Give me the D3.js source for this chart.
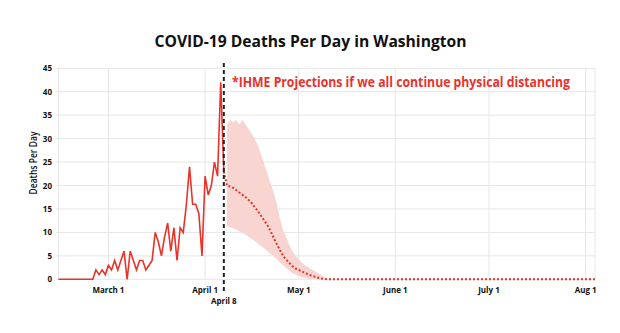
<!DOCTYPE html>
<html>
<head>
  <meta charset="utf-8">
  <title>COVID-19 Deaths Per Day in Washington</title>
  <style>
    html, body {
      margin: 0;
      padding: 0;
      background: #fff;
    }
    svg {
      display: block;
      font-family: "Open Sans", sans-serif;
    }
    .grid line {
      stroke: #e6e6e6;
      stroke-width: 1;
    }
    .tick-label {
      font-size: 8px;
      font-weight: 700;
      fill: #111;
    }
  </style>
</head>
<body>
  <svg id="chart" width="620" height="333"></svg>

  <script src="https://d3js.org/d3.v7.min.js"></script>
  <script>
    const width = 620;
    const height = 333;

    // reported deaths, one value per day starting Feb 14 2020
    const observedStart = new Date(2020, 1, 14);
    const observed = [
      0, 0, 0, 0, 0, 0, 0, 0, 0, 0, 0, 0,
      2, 1, 2, 1, 3, 2, 4, 2, 4, 6, 0, 6, 4, 2, 4, 4, 2, 3, 4,
      10, 8, 5, 9, 12, 6, 11, 4, 11, 10, 16, 24, 16, 16, 14, 5,
      22, 18, 20, 25, 22, 42, 23
    ];

    // IHME projection, one value per day starting Apr 7 2020
    const projStart = new Date(2020, 3, 7);
    const projMean = [
      23, 20, 19.8, 19.5, 19, 18.5, 18, 17.5, 16.9, 16.2, 15.3, 14.5, 13.5, 12.5,
      11.5, 10.3, 8.8, 7.5, 6.2, 5, 4.2, 3.5, 2.8, 2.3, 2, 1.7, 1.4, 1.1, 0.8,
      0.6, 0.4, 0.2, 0.1, 0
    ];
    // uncertainty band, starting Apr 8 2020
    const bandStart = new Date(2020, 3, 8);
    const projUpper = [
      33, 34, 33.5, 34, 33, 34, 33, 32, 31, 29.8, 28.5, 26.5, 24.5, 22.5, 20.5,
      18.5, 16, 13, 10.5, 9, 7.3, 6, 5, 4.3, 3.6, 3, 2.6, 2.1, 1.8, 1.4, 1, 0.5, 0.1, 0
    ];
    const projLower = [
      11.3, 11.1, 10.9, 10.6, 10.2, 9.9, 9.5, 9, 8.6, 8.1, 7.6, 7, 6.6, 6, 5.4,
      4.9, 4.3, 3.6, 3, 2.4, 1.8, 1.3, 1, 0.7, 0.5, 0.3, 0.1, 0, 0, 0, 0, 0, 0, 0
    ];
    const projEnd = new Date(2020, 7, 4);

    const yTicks = [0, 5, 10, 15, 20, 25, 30, 35, 40, 45];
    const xTicks = [
      { date: new Date(2020, 2, 1), label: "March 1" },
      { date: new Date(2020, 3, 1), label: "April 1" },
      { date: new Date(2020, 4, 1), label: "May 1" },
      { date: new Date(2020, 5, 1), label: "June 1" },
      { date: new Date(2020, 6, 1), label: "July 1" },
      { date: new Date(2020, 7, 1), label: "Aug 1" }
    ];
    const cutoffDate = new Date(2020, 3, 7);
    const cutoffLabel = "April 8";

    const dayOffset = (start, i) => d3.timeDay.offset(start, i);
    const observedData = observed.map((v, i) => ({ date: dayOffset(observedStart, i), value: v }));
    const meanData = projMean.map((v, i) => ({ date: dayOffset(projStart, i), value: v }));
    meanData.push({ date: projEnd, value: 0 });
    const bandData = projUpper.map((v, i) => ({ date: dayOffset(bandStart, i), hi: v, lo: projLower[i] }));

    const x = d3.scaleTime()
      .domain([new Date(2020, 1, 14), projEnd])
      .range([58.5, 595]);
    const y = d3.scaleLinear()
      .domain([0, 45])
      .range([279.3, 68.3]);

    const svg = d3.select("#chart");

    // title
    svg.append("text")
      .attr("x", 310.5)
      .attr("y", 47.3)
      .attr("text-anchor", "middle")
      .attr("font-size", 16)
      .attr("font-weight", 700)
      .attr("fill", "#111")
      .attr("textLength", 312)
      .attr("lengthAdjust", "spacingAndGlyphs")
      .text("COVID-19 Deaths Per Day in Washington");

    // gridlines
    const grid = svg.append("g").attr("class", "grid");
    grid.selectAll("line.h")
      .data(yTicks)
      .enter().append("line")
      .attr("class", "h")
      .attr("x1", 56).attr("x2", x.range()[1])
      .attr("y1", d => y(d)).attr("y2", d => y(d));
    grid.selectAll("line.v")
      .data([x.domain()[0], ...xTicks.map(t => t.date), x.domain()[1]])
      .enter().append("line")
      .attr("class", "v")
      .attr("x1", d => x(d)).attr("x2", d => x(d))
      .attr("y1", y(45)).attr("y2", y(0));

    // y tick labels
    svg.append("g").selectAll("text")
      .data(yTicks)
      .enter().append("text")
      .attr("class", "tick-label")
      .attr("x", 52)
      .attr("y", d => y(d) + 3)
      .attr("text-anchor", "end")
      .text(d => d);

    // x tick labels
    svg.append("g").selectAll("text")
      .data(xTicks)
      .enter().append("text")
      .attr("class", "tick-label")
      .attr("x", d => x(d.date))
      .attr("y", 293)
      .attr("text-anchor", "middle")
      .text(d => d.label);

    // y axis title
    svg.append("text")
      .attr("transform", "translate(37,163) rotate(-90)")
      .attr("text-anchor", "middle")
      .attr("font-size", 11)
      .attr("font-weight", 600)
      .attr("fill", "#111")
      .attr("textLength", 63)
      .attr("lengthAdjust", "spacingAndGlyphs")
      .text("Deaths Per Day");

    // projection band
    svg.append("path")
      .datum(bandData)
      .attr("fill", "#f9d5d1")
      .attr("d", d3.area()
        .x(d => x(d.date))
        .y0(d => y(d.lo))
        .y1(d => y(d.hi)));

    // projected mean (dotted)
    svg.append("path")
      .datum(meanData)
      .attr("fill", "none")
      .attr("stroke", "#e8332b")
      .attr("stroke-width", 2)
      .attr("stroke-dasharray", "2,2")
      .attr("d", d3.line()
        .x(d => x(d.date))
        .y(d => y(d.value)));

    // reported deaths
    svg.append("path")
      .datum(observedData)
      .attr("fill", "none")
      .attr("stroke", "#e8332b")
      .attr("stroke-width", 1.6)
      .attr("stroke-linejoin", "miter")
      .attr("d", d3.line()
        .x(d => x(d.date))
        .y(d => y(d.value)));

    // cutoff marker
    svg.append("line")
      .attr("x1", x(cutoffDate)).attr("x2", x(cutoffDate))
      .attr("y1", 63).attr("y2", 294)
      .attr("stroke", "#222")
      .attr("stroke-width", 2)
      .attr("stroke-dasharray", "4,3");
    svg.append("text")
      .attr("class", "tick-label")
      .attr("x", x(cutoffDate))
      .attr("y", 304)
      .attr("text-anchor", "middle")
      .text(cutoffLabel);

    // annotation
    svg.append("text")
      .attr("x", 232)
      .attr("y", 86.5)
      .attr("font-size", 14)
      .attr("font-weight", 700)
      .attr("fill", "#e8332b")
      .attr("textLength", 338)
      .attr("lengthAdjust", "spacingAndGlyphs")
      .text("*IHME Projections if we all continue physical distancing");
  </script>
</body>
</html>
